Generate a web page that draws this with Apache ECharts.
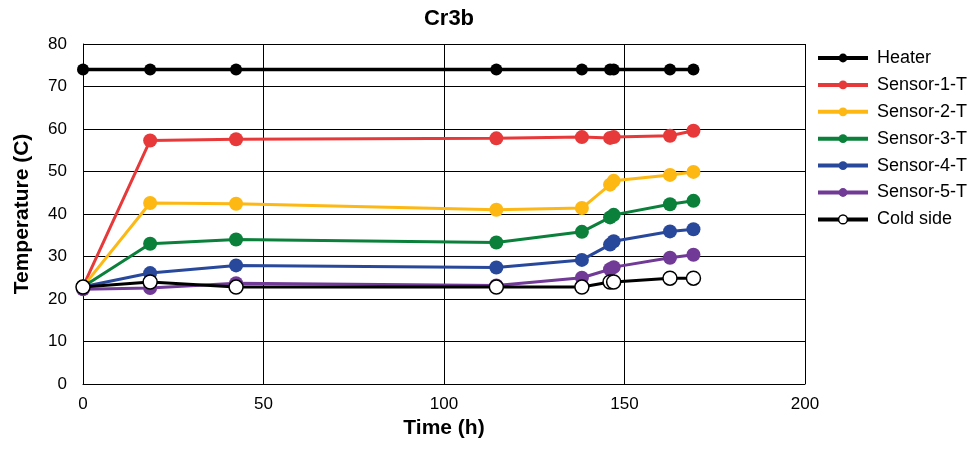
<!DOCTYPE html>
<html>
<head>
<meta charset="utf-8">
<script src="https://cdn.jsdelivr.net/npm/echarts@6/dist/echarts.min.js"></script>
<style>
  html, body { margin: 0; padding: 0; background: #fff; }
  #chart { width: 975px; height: 454px; }
</style>
</head>
<body>
<div id="chart"></div>
<script>
// Elapsed time of each measurement (hours)
const timeHours = [0, 18.6, 42.4, 114.5, 138.2, 146, 147, 162.6, 169.1];

// Temperatures (C) at each measurement time
const heater  = [74, 74, 74, 74, 74, 74, 74, 74, 74];
const sensor1 = [22.9, 57.3, 57.6, 57.8, 58.1, 57.9, 58.1, 58.4, 59.6];
const sensor2 = [22.9, 42.6, 42.4, 41.0, 41.4, 46.9, 47.8, 49.2, 49.9];
const sensor3 = [22.9, 33.0, 34.0, 33.3, 35.8, 39.2, 39.8, 42.3, 43.1];
const sensor4 = [22.9, 26.1, 27.9, 27.4, 29.2, 32.8, 33.6, 35.9, 36.4];
const sensor5 = [22.3, 22.6, 23.7, 23.2, 25.0, 27.0, 27.5, 29.7, 30.4];
const coldSide = [22.8, 24.0, 22.8, 22.8, 22.8, 24.0, 24.0, 24.9, 24.9];

const seriesNames = ['Heater', 'Sensor-1-T', 'Sensor-2-T', 'Sensor-3-T', 'Sensor-4-T', 'Sensor-5-T', 'Cold side'];
const seriesValues = [heater, sensor1, sensor2, sensor3, sensor4, sensor5, coldSide];
const seriesColors = ['#000000', '#E8393A', '#FDB813', '#0A803A', '#28489B', '#713A96', '#000000'];

const xTicks = { min: 0, max: 200, step: 50 };
const yTicks = { min: 0, max: 80, step: 10 };

const FONT = 'Liberation Sans, Arial, sans-serif';

const chart = echarts.init(document.getElementById('chart'), null, { renderer: 'canvas' });

const series = seriesNames.map((name, i) => {
  const isCold = name === 'Cold side';
  const isHeater = name === 'Heater';
  return {
    name: name,
    type: 'line',
    data: timeHours.map((t, k) => [t, seriesValues[i][k]]),
    symbol: 'circle',
    symbolSize: isHeater ? 12 : 14,
    showAllSymbol: true,
    lineStyle: { color: seriesColors[i], width: isHeater ? 3.5 : 3 },
    itemStyle: isCold
      ? { color: '#ffffff', borderColor: '#000000', borderWidth: 1.5 }
      : { color: seriesColors[i], borderWidth: 0 },
    z: 2 + i,
    animation: false
  };
});

const option = {
  backgroundColor: '#ffffff',
  animation: false,
  title: {
    text: 'Cr3b',
    left: 444,
    textAlign: 'center',
    top: 3,
    textStyle: { fontFamily: FONT, fontSize: 22, fontWeight: 'bold', color: '#000' }
  },
  legend: {
    orient: 'vertical',
    left: 811,
    top: 44,
    itemWidth: 50,
    itemHeight: 11,
    itemGap: 8.9,
    data: seriesNames.map((n, i) => ({
      name: n,
      lineStyle: { width: 4 },
      itemStyle: n === 'Cold side'
        ? { color: '#fff', borderColor: '#000', borderWidth: 1.5 }
        : { color: seriesColors[i] }
    })),
    textStyle: { fontFamily: FONT, fontSize: 18, lineHeight: 18, color: '#000', padding: [0, 0, 0, 4] }
  },
  grid: { left: 83, right: 170, top: 44, bottom: 70, containLabel: false },
  xAxis: {
    type: 'value',
    min: xTicks.min,
    max: xTicks.max,
    interval: xTicks.step,
    name: 'Time (h)',
    nameLocation: 'middle',
    nameGap: 33,
    nameTextStyle: { fontFamily: FONT, fontSize: 21, fontWeight: 'bold', color: '#000' },
    axisLine: { show: true, lineStyle: { color: '#000', width: 1 } },
    axisTick: { show: false },
    axisLabel: { fontFamily: FONT, fontSize: 17, color: '#000', margin: 12 },
    splitLine: { show: true, lineStyle: { color: '#000', width: 1 } }
  },
  yAxis: {
    type: 'value',
    min: yTicks.min,
    max: yTicks.max,
    interval: yTicks.step,
    name: 'Temperature (C)',
    nameLocation: 'middle',
    nameGap: 50,
    nameTextStyle: { fontFamily: FONT, fontSize: 21, fontWeight: 'bold', color: '#000' },
    axisLine: { show: true, lineStyle: { color: '#000', width: 1 } },
    axisTick: { show: false },
    axisLabel: { fontFamily: FONT, fontSize: 17, color: '#000', margin: 16 },
    splitLine: { show: true, lineStyle: { color: '#000', width: 1 } }
  },
  series: series
};

chart.setOption(option);
</script>
</body>
</html>
